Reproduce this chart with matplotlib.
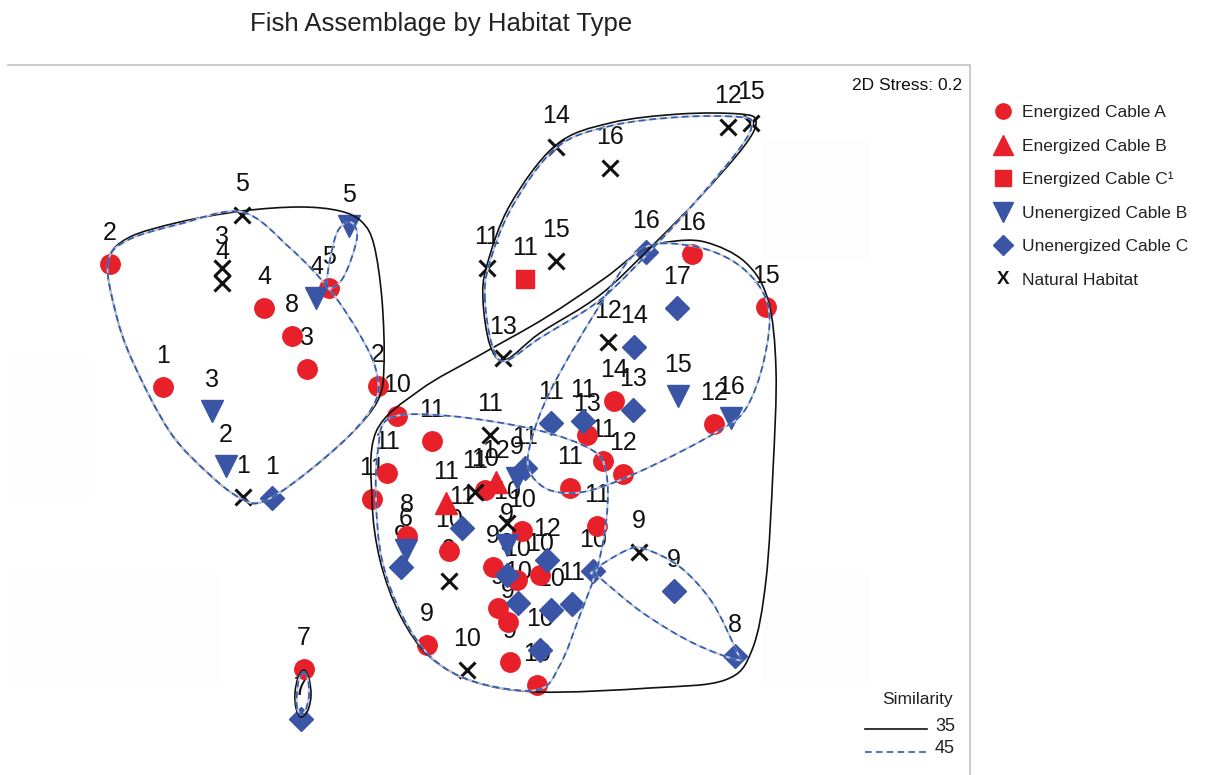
"""
Fish assemblage nMDS plot with similarity contours
"""
import numpy as np
import matplotlib
matplotlib.use("Agg")
import matplotlib.pyplot as plt
from matplotlib.path import Path
from matplotlib.patches import PathPatch, Rectangle

plt.rcParams['font.family'] = ['Liberation Sans', 'DejaVu Sans']

# ordination positions (y grows downwards) and sample labels
ea_x = [110, 264, 292, 307, 329, 378, 163, 304, 692, 766, 714, 397, 432, 387, 372, 485,
        407, 449, 522, 493, 517, 540, 498, 508, 427, 510, 537, 570, 597, 603, 623, 587, 614]
ea_y = [264, 308, 336, 369, 288, 386, 387, 669, 254, 307, 424, 416, 441, 473, 499, 490,
        536, 551, 531, 567, 580, 575, 608, 622, 645, 662, 685, 488, 526, 461, 474, 435, 401]
ea_lab = ['2', '4', '8', '3', '5', '2', '1', '7', '16', '15', '12', '10', '11', '11', '11', '10',
          '8', '10', '10', '9', '10', '10', '9', '9', '9', '9', '10', '11', '11', '11', '12', '13', '14']

eb_x = [446, 496]
eb_y = [503, 482]
eb_lab = ['11', '12']

ec_x = [525]
ec_y = [279]
ec_lab = ['11']

ub_x = [349, 316, 212, 226, 678, 731, 406, 517, 507]
ub_y = [226, 298, 411, 466, 396, 418, 550, 478, 545]
ub_lab = ['5', '4', '3', '2', '15', '16', '6', '9', '9']

uc_x = [272, 301, 646, 677, 634, 633, 551, 583, 525, 462, 401, 547, 507, 593, 572, 551,
        518, 540, 674, 735]
uc_y = [498, 719, 252, 308, 347, 410, 423, 421, 468, 528, 567, 560, 575, 571, 604, 610,
        603, 650, 591, 656]
uc_lab = ['1', '7', '16', '17', '14', '13', '11', '11', '11', '11', '9', '12', '9', '10', '11', '10',
          '10', '10', '9', '8']

nh_x = [242, 222, 222, 243, 556, 610, 728, 751, 487, 556, 503, 608, 490, 475, 507, 449, 467, 639]
nh_y = [215, 268, 283, 497, 147, 168, 127, 123, 268, 261, 358, 342, 435, 492, 523, 581, 670, 552]
nh_lab = ['5', '3', '4', '1', '14', '16', '12', '15', '11', '15', '13', '12', '11', '11', '10', '9', '10', '9']

# similarity contours (outline points)
sim35 = [
    [(108, 262), (115, 310), (132, 360), (170, 432), (210, 475), (240, 498), (262, 502),
     (300, 478), (350, 435), (378, 400), (384, 365), (382, 300), (374, 245), (362, 222),
     (340, 211), (300, 207), (242, 211), (180, 222), (128, 238)],
    [(483, 300), (487, 265), (510, 205), (556, 145), (610, 123), (680, 114), (740, 114),
     (756, 121), (745, 145), (700, 197), (655, 243), (600, 295), (540, 333), (505, 360),
     (490, 345)],
    [(376, 432), (420, 390), (480, 355), (545, 318), (605, 278), (640, 251), (668, 242),
     (705, 242), (745, 262), (768, 300), (776, 370), (773, 470), (766, 580), (752, 650),
     (725, 680), (650, 688), (540, 692), (475, 682), (430, 657), (400, 615), (380, 560),
     (372, 500)],
    [(304, 670), (309, 679), (311, 695), (308, 710), (301, 717), (296, 708), (295, 693), (298, 678)],
]
sim45 = [
    [(108, 262), (115, 310), (132, 360), (170, 432), (210, 475), (240, 498), (262, 502),
     (300, 478), (350, 435), (376, 400), (376, 370), (360, 335), (330, 290), (290, 248),
     (242, 212), (180, 224), (128, 240)],
    [(327, 285), (336, 235), (350, 222), (357, 238), (343, 278)],
    [(485, 300), (489, 265), (512, 207), (556, 148), (610, 126), (680, 117), (740, 117),
     (752, 124), (740, 148), (697, 200), (655, 246), (600, 300), (540, 338), (505, 361),
     (492, 345)],
    [(640, 250), (692, 246), (740, 266), (768, 305), (764, 360), (745, 410), (715, 433),
     (660, 462), (610, 484), (575, 493), (545, 488), (528, 466), (535, 428), (556, 380),
     (600, 305)],
    [(390, 418), (450, 416), (537, 430), (592, 450), (606, 472), (607, 513), (598, 565),
     (580, 615), (560, 665), (537, 690), (475, 682), (432, 658), (402, 615), (382, 560),
     (376, 500), (378, 450)],
    [(593, 571), (627, 550), (645, 549), (680, 567), (712, 602), (736, 650), (738, 660),
     (693, 643), (643, 613), (600, 578)],
    [(304, 672), (308, 680), (309, 695), (306, 709), (301, 715), (297, 707), (297, 693), (299, 679)],
]

red = '#e8202a'
blue = '#3a55a5'


def smooth_closed(pts):
    # closed curve through the outline points (catmull-rom -> bezier)
    P = np.array(pts, float)
    n = len(P)
    verts = [P[0]]
    codes = [Path.MOVETO]
    for i in range(n):
        p0, p1, p2, p3 = P[i - 1], P[i], P[(i + 1) % n], P[(i + 2) % n]
        verts += [p1 + (p2 - p0) / 6, p2 - (p3 - p1) / 6, p2]
        codes += [Path.CURVE4] * 3
    return Path(verts, codes)


fig = plt.figure(figsize=(12.26, 7.75), dpi=100)
ax = fig.add_axes([0, 0, 1, 1])
ax.set_xlim(0, 1226)
ax.set_ylim(775, 0)
ax.axis('off')

# faint background blocks
for (bx, by, bw, bh) in [(8, 575, 212, 111), (762, 140, 108, 120), (762, 575, 108, 111), (8, 358, 82, 140)]:
    ax.add_patch(Rectangle((bx, by), bw, bh, color='#fdfdfd', lw=0, zorder=0))

# frame
ax.plot([8, 970], [65, 65], color='#c4c4c4', lw=1.2, zorder=1)
ax.plot([970, 970], [65, 775], color='#c4c4c4', lw=1.2, zorder=1)

groups = [
    (ea_x, ea_y, ea_lab, dict(marker='o', color=red, ms=14)),
    (eb_x, eb_y, eb_lab, dict(marker='^', color=red, ms=16)),
    (ec_x, ec_y, ec_lab, dict(marker='s', color=red, ms=13.5)),
    (ub_x, ub_y, ub_lab, dict(marker='v', color=blue, ms=16.5)),
    (uc_x, uc_y, uc_lab, dict(marker='D', color=blue, ms=12)),
    (nh_x, nh_y, nh_lab, dict(marker='x', color='#111111', ms=11.5, mew=2.2)),
]
for gx, gy, glab, st in groups:
    ax.plot(gx, gy, ls='none', zorder=3, **st)
    for x, y, t in zip(gx, gy, glab):
        ax.text(x, y - 24, t, fontsize=18, ha='center', va='baseline', color='#111111', zorder=2)

for pts in sim35:
    ax.add_patch(PathPatch(smooth_closed(pts), fill=False, ec='#111111', lw=1.2, zorder=4))
for pts in sim45:
    pth = smooth_closed(pts)
    ax.add_patch(PathPatch(pth, fill=False, ec='#c9c9d6', lw=1.4, zorder=4))
    ax.add_patch(PathPatch(pth, fill=False, ec='#2a5cb3', lw=1.2, ls=(0, (4, 2.5)), zorder=5))

# title and stress
ax.text(441, 31, 'Fish Assemblage by Habitat Type', fontsize=18.5, ha='center', va='baseline', color='#222222')
ax.text(962, 90, '2D Stress: 0.2', fontsize=12.5, ha='right', va='baseline', color='#111111')

# legend
leg_names = ['Energized Cable A', 'Energized Cable B', 'Energized Cable C\u00b9',
             'Unenergized Cable B', 'Unenergized Cable C', 'Natural Habitat']
leg_styles = [dict(marker='o', color=red, ms=11), dict(marker='^', color=red, ms=15),
              dict(marker='s', color=red, ms=11), dict(marker='v', color=blue, ms=15),
              dict(marker='D', color=blue, ms=10.5), None]
for i, (name, st) in enumerate(zip(leg_names, leg_styles)):
    yy = 111 + i * 33.6
    if st is None:
        ax.text(1003, yy, 'X', fontsize=13.5, fontweight='bold', ha='center', va='center', color='#111111')
    else:
        ax.plot([1003], [yy], ls='none', clip_on=False, **st)
    ax.text(1022, yy + 6, name, fontsize=12.5, ha='left', va='baseline', color='#222222')

# similarity key
ax.text(953, 704, 'Similarity', fontsize=12.5, ha='right', va='baseline', color='#222222')
ax.plot([865, 927], [729, 729], color='#111111', lw=1.2)
ax.text(955, 731, '35', fontsize=13, ha='right', va='baseline', color='#222222')
ax.plot([865, 927], [752, 752], color='#2a5cb3', lw=1.2, ls=(0, (4, 2.5)))
ax.text(955, 753, '45', fontsize=13, ha='right', va='baseline', color='#222222')

fig.savefig('out.png', dpi=100)
